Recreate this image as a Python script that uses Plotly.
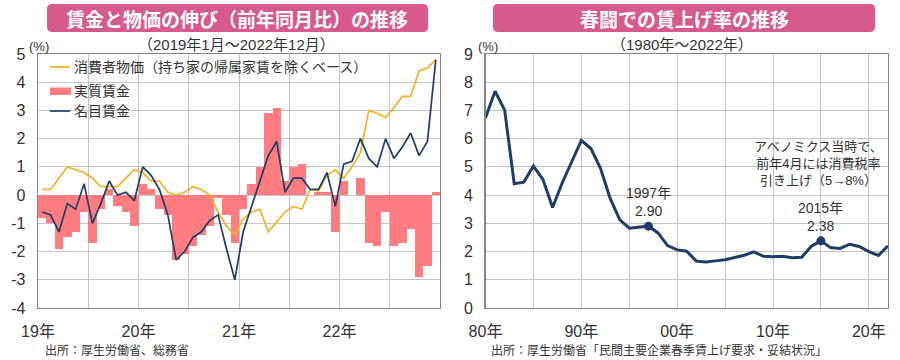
import plotly.graph_objects as go

# ---------------- data ----------------
month_index = list(range(48))  # 2019-01 .. 2022-12
cpi_ex_rent = [0.2, 0.2, 0.6, 1.0, 0.9, 0.8, 0.6, 0.3, 0.3, 0.3, 0.6, 0.9,
               0.8, 0.5, 0.5, 0.1, 0.0, 0.1, 0.3, 0.2, 0.0, -0.6, -1.1, -1.4,
               -0.85, -0.6, -0.5, -1.3, -0.95, -0.6, -0.4, -0.5, 0.2, 0.15, 0.7, 0.9,
               0.6, 1.0, 1.5, 3.0, 2.9, 2.75, 3.1, 3.5, 3.5, 4.4, 4.5, 4.8]
real_wage = [-0.8, -1.0, -1.9, -1.5, -1.3, -0.6, -1.7, -0.5, 0.2, -0.4, -0.6, -1.1,
             0.4, 0.2, -0.5, -0.7, -2.3, -2.1, -1.8, -1.4, -1.1, -0.1, -0.7, -1.7,
             -0.5, 0.4, 1.0, 2.9, 3.1, 0.5, 1.0, 1.1, 0.0, 0.1, 0.1, -1.3,
             0.5, 0.0, 0.6, -1.7, -1.8, -0.6, -1.8, -1.7, -1.2, -2.9, -2.5, 0.1]
nominal_wage = [-0.6, -0.7, -1.3, -0.3, -0.5, 0.4, -1.0, -0.3, 0.5, 0.0, 0.1, -0.2,
                1.0, 0.7, 0.2, -0.7, -2.3, -2.0, -1.5, -1.3, -0.9, -0.7, -1.9, -3.0,
                -1.3, -0.4, 0.55, 1.4, 1.9, 0.1, 0.6, 0.6, 0.2, 0.2, 0.8, -0.4,
                1.1, 1.2, 2.0, 1.3, 1.0, 2.0, 1.3, 1.7, 2.2, 1.4, 1.9, 4.8]
left_tick_vals = [0, 6, 12, 18, 24, 30, 36, 42, 48]
left_tick_text = ["19年", "", "20年", "", "21年", "", "22年", "", ""]
left_y_vals = [-4, -3, -2, -1, 0, 1, 2, 3, 4, 5]

shunto_years = list(range(1980, 2023))
shunto_rate = [6.74, 7.68, 7.01, 4.40, 4.46, 5.03, 4.55, 3.56, 4.43, 5.17,
               5.94, 5.65, 4.95, 3.89, 3.13, 2.83, 2.86, 2.90, 2.66, 2.21,
               2.06, 2.01, 1.66, 1.63, 1.67, 1.71, 1.79, 1.87, 1.99, 1.83,
               1.82, 1.83, 1.78, 1.80, 2.19, 2.38, 2.14, 2.11, 2.26, 2.18,
               2.00, 1.86, 2.20]
highlight_years = [1997, 2015]
right_tick_vals = [1980, 1985, 1990, 1995, 2000, 2005, 2010, 2015, 2020]
right_tick_text = ["80年", "", "90年", "", "00年", "", "10年", "", "20年"]
right_y_vals = list(range(10))

# ---------------- style ----------------
W, H = 900, 360
FONT = "Liberation Sans, Noto Sans CJK JP, sans-serif"
JFONT = "Noto Sans CJK JP, sans-serif"
NAVY = "#1f3d66"
GOLD = "#efb323"
PINK = "#ff7d81"
TITLE_BG = "#d65b8c"
GRID = "#c4c4c4"
AXIS = "#858585"
TXT = "#333333"


def px(x):
    return x / W


def py(y):
    return 1 - y / H


fig = go.Figure()
xm = [m + 0.5 for m in month_index]
fig.add_trace(go.Bar(x=xm, y=real_wage, width=1.0, marker=dict(color=PINK, line=dict(width=0)),
                     xaxis="x", yaxis="y", name="実質賃金"))
fig.add_trace(go.Scatter(x=xm, y=cpi_ex_rent, mode="lines", line=dict(color=GOLD, width=1.7),
                         xaxis="x", yaxis="y", name="消費者物価"))
fig.add_trace(go.Scatter(x=xm, y=nominal_wage, mode="lines", line=dict(color=NAVY, width=1.7),
                         xaxis="x", yaxis="y", name="名目賃金"))

fig.add_trace(go.Scatter(x=shunto_years, y=shunto_rate, mode="lines",
                         line=dict(color=NAVY, width=3), xaxis="x2", yaxis="y2"))
hy = [shunto_rate[shunto_years.index(y)] for y in highlight_years]
fig.add_trace(go.Scatter(x=highlight_years, y=hy, mode="markers",
                         marker=dict(color=NAVY, size=9), xaxis="x2", yaxis="y2"))

ydom = [py(308), py(54)]
common = dict(showgrid=True, gridcolor=GRID, gridwidth=1, showline=True, linecolor=AXIS,
              linewidth=1.3, mirror=True, ticks="", zeroline=False, automargin=False,
              tickfont=dict(family=FONT, size=16, color=TXT), ticklabelstandoff=8)

fig.update_layout(
    width=W, height=H, autosize=False, margin=dict(l=0, r=0, t=0, b=0, pad=0, autoexpand=False),
    paper_bgcolor="white", plot_bgcolor="white", showlegend=False,
    bargap=0,
    xaxis=dict(domain=[px(38), px(440)], range=[0, 48], tickmode="array",
               tickvals=left_tick_vals, ticktext=left_tick_text, anchor="y", **common),
    yaxis=dict(domain=ydom, range=[-4, 5], tickmode="array", tickvals=left_y_vals,
               ticktext=[str(v) for v in left_y_vals], anchor="x", **common),
    xaxis2=dict(domain=[px(485.5), px(888)], range=[1980, 2022], tickmode="array",
                tickvals=right_tick_vals, ticktext=right_tick_text, anchor="y2", **common),
    yaxis2=dict(domain=ydom, range=[0, 9], tickmode="array", tickvals=right_y_vals,
                ticktext=[str(v) for v in right_y_vals], anchor="x2", **common),
)


def rounded_rect(x0, y0, x1, y1, r):
    X0, X1 = px(x0), px(x1)
    Y0, Y1 = py(y0), py(y1)
    rx, ry = r / W, r / H
    return (f"M {X0+rx},{Y0} L {X1-rx},{Y0} Q {X1},{Y0} {X1},{Y0-ry} "
            f"L {X1},{Y1+ry} Q {X1},{Y1} {X1-rx},{Y1} L {X0+rx},{Y1} "
            f"Q {X0},{Y1} {X0},{Y1+ry} L {X0},{Y0-ry} Q {X0},{Y0} {X0+rx},{Y0} Z")


shapes = []
for (a, b) in [(47, 428), (493, 875)]:
    shapes.append(dict(type="path", xref="paper", yref="paper", path=rounded_rect(a, 4, b, 32, 5),
                       fillcolor=TITLE_BG, line=dict(width=0), layer="above"))

# manual legend
shapes.append(dict(type="line", xref="paper", yref="paper", x0=px(50), x1=px(70), y0=py(67), y1=py(67),
                   line=dict(color=GOLD, width=1.7)))
shapes.append(dict(type="rect", xref="paper", yref="paper", x0=px(50), x1=px(71), y0=py(95), y1=py(87.5),
                   fillcolor=PINK, line=dict(width=0)))
shapes.append(dict(type="line", xref="paper", yref="paper", x0=px(50), x1=px(70), y0=py(111), y1=py(111),
                   line=dict(color=NAVY, width=1.7)))
fig.update_layout(shapes=shapes)

ann = []


def text(x, y, s, size, color=TXT, xanchor="center", bold=False, family=FONT):
    if bold:
        s = f"<b>{s}</b>"
    ann.append(dict(x=px(x), y=py(y), xref="paper", yref="paper", text=s, showarrow=False,
                    xanchor=xanchor, yanchor="middle", font=dict(family=family, size=size, color=color)))


text(237, 18, "賃金と物価の伸び（前年同月比）の推移", 19, "white", bold=True, family=JFONT)
text(684, 18, "春闘での賃上げ率の推移", 19, "white", bold=True, family=JFONT)
text(236, 44, "（2019年1月～2022年12月）", 15)
text(682, 44, "（1980年～2022年）", 15)
text(39, 46, "(%)", 13)
text(488, 46, "(%)", 13)
text(72, 67, "消費者物価（持ち家の帰属家賃を除くベース）", 14, xanchor="left")
text(72, 91, "実質賃金", 14, xanchor="left")
text(72, 111, "名目賃金", 14, xanchor="left")
text(43, 350, "出所：厚生労働省、総務省", 12, xanchor="left")
text(489, 350, "出所：厚生労働省「民間主要企業春季賃上げ要求・妥結状況」", 12, xanchor="left")
text(818, 164, "アベノミクス当時で、<br>前年4月には消費税率<br>引き上げ（5→8%）", 13)

fig.update_layout(annotations=ann)

for yr, v in zip(highlight_years, hy):
    fig.add_annotation(x=yr, y=v, xref="x2", yref="y2", text=f"{yr}年<br>{v:.2f}", showarrow=False,
                       xanchor="center", yanchor="middle", yshift=24,
                       font=dict(family=FONT, size=14, color=TXT), align="center")

# remove the browser's default 8px page margin so the 900x360 figure fills the window
fig.write_html("out.html", post_script="document.body.style.margin='0';",
               config={"displayModeBar": False, "staticPlot": True})
